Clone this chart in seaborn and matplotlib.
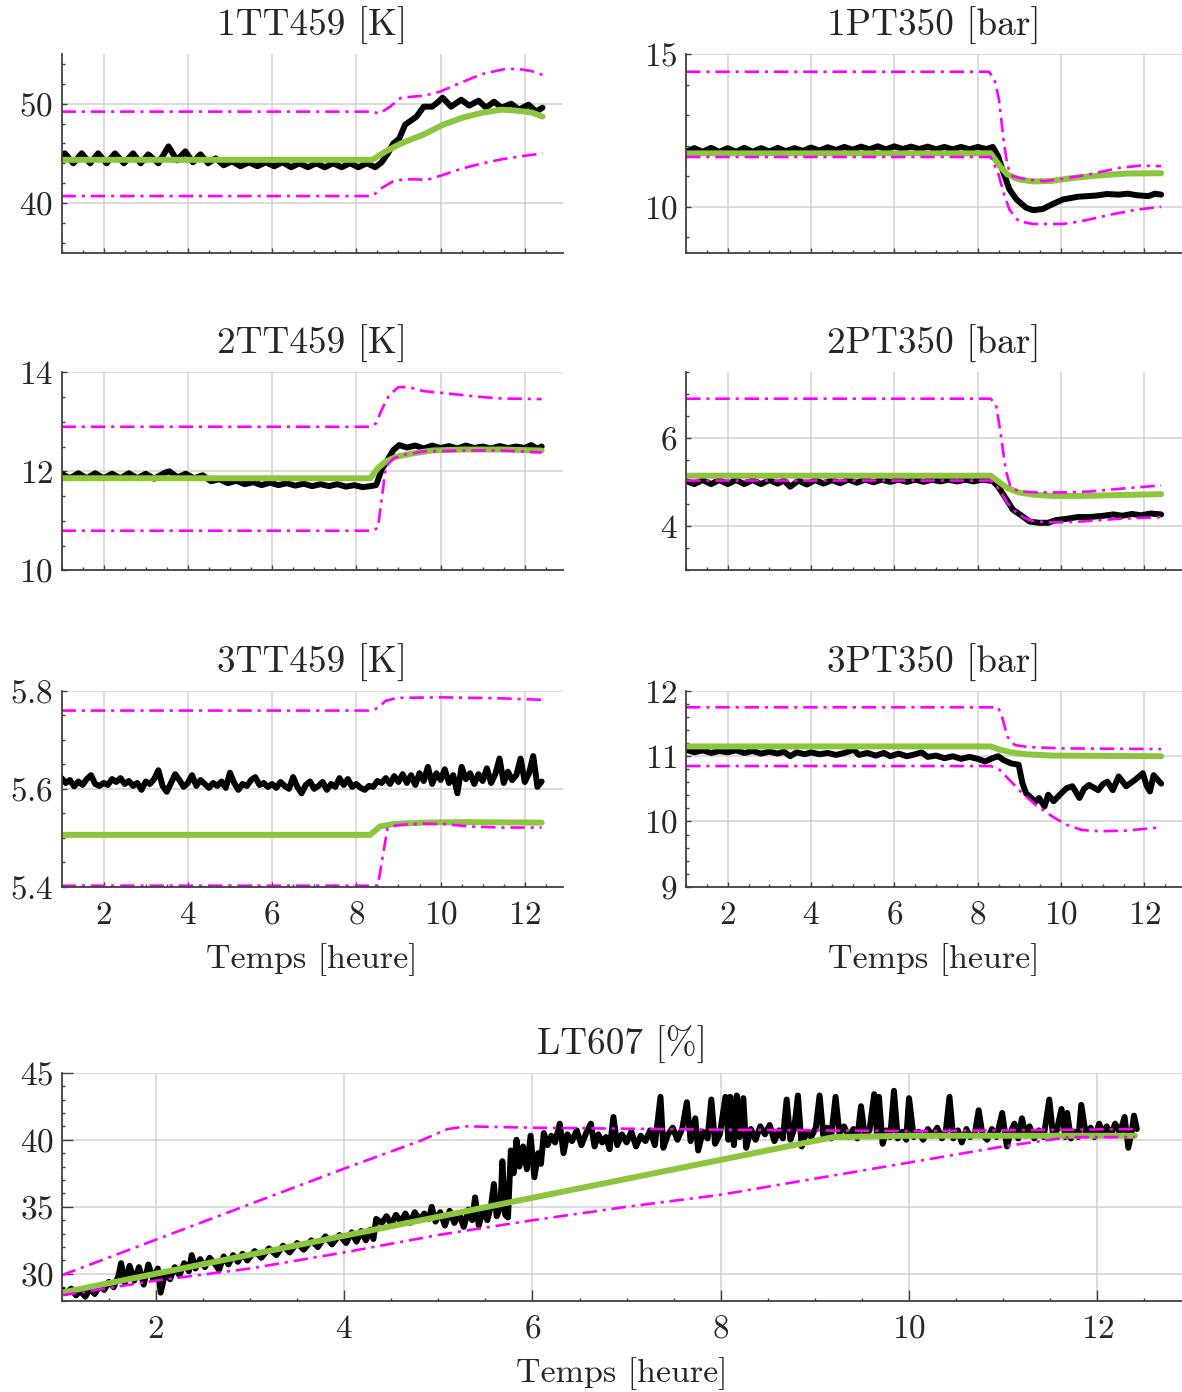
import seaborn as sns
import matplotlib.pyplot as plt
from matplotlib.ticker import MultipleLocator, FixedLocator

# ---------------- data ----------------
# 1TT459 [K]
t_1tt_meas = [1.00, 1.08, 1.28, 1.48, 1.68, 1.87, 2.07, 2.27, 2.48, 2.70,
              2.88, 3.06, 3.30, 3.54, 3.74, 3.94, 4.12, 4.30, 4.48, 4.66,
              4.85, 5.05, 5.25, 5.45, 5.65, 5.85, 6.05, 6.25, 6.45, 6.65,
              6.85, 7.05, 7.25, 7.45, 7.65, 7.85, 8.05, 8.25, 8.45, 8.60,
              8.75, 8.88, 9.02, 9.16, 9.30, 9.43, 9.60, 9.80, 9.92, 10.05,
              10.25, 10.49, 10.68, 10.90, 11.08, 11.27, 11.45, 11.68, 11.86, 12.09,
              12.27, 12.42]
v_1tt_meas = [44.6, 45.0, 44.0, 45.0, 44.0, 45.0, 44.0, 45.0, 44.0, 45.0,
              44.0, 44.9, 44.0, 45.7, 44.3, 45.2, 44.1, 44.9, 44.0, 44.5,
              43.8, 44.2, 43.7, 44.1, 43.7, 44.1, 43.7, 44.1, 43.6, 44.0,
              43.6, 44.0, 43.6, 44.0, 43.6, 44.0, 43.6, 44.0, 43.6, 44.1,
              45.0, 46.0, 46.5, 47.9, 48.3, 48.7, 49.7, 49.7, 50.1, 50.6,
              49.7, 50.4, 49.8, 50.3, 49.6, 50.2, 49.6, 50.0, 49.4, 49.9,
              49.2, 49.6]
t_1tt_mod = [1.0, 8.38, 8.7, 9.06, 9.6, 10.07, 10.53, 11.0, 11.45, 11.8, 12.18, 12.42]
v_1tt_mod = [44.35, 44.35, 45.2, 46.0, 46.9, 47.9, 48.6, 49.1, 49.4, 49.3, 49.1, 48.7]
t_1tt_up = [1.0, 8.38, 8.55, 8.8, 9.06, 9.6, 9.98, 10.53, 11.0, 11.54, 11.82, 12.15, 12.42]
v_1tt_up = [49.2, 49.2, 49.0, 49.7, 50.6, 50.8, 51.2, 52.2, 53.0, 53.5, 53.5, 53.3, 52.9]
t_1tt_lo = [1.0, 8.38, 8.6, 8.88, 9.16, 9.7, 10.07, 10.53, 11.0, 11.45, 11.9, 12.42]
v_1tt_lo = [40.7, 40.7, 41.5, 42.2, 42.4, 42.35, 42.85, 43.5, 44.0, 44.4, 44.7, 45.0]

# 1PT350 [bar]
t_1pt_meas = [1.0, 1.2, 1.4, 1.6, 1.8, 2.0, 2.2, 2.4, 2.6, 2.8,
              3.0, 3.2, 3.4, 3.6, 3.8, 4.0, 4.2, 4.4, 4.6, 4.8,
              5.0, 5.2, 5.4, 5.6, 5.8, 6.0, 6.2, 6.4, 6.6, 6.8,
              7.0, 7.2, 7.4, 7.6, 7.8, 8.0, 8.2, 8.36, 8.49, 8.62,
              8.76, 8.93, 9.16, 9.33, 9.56, 9.78, 10.04, 10.4, 10.84, 11.1,
              11.38, 11.6, 11.82, 12.09, 12.25, 12.4]
v_1pt_meas = [11.80, 11.92, 11.80, 11.93, 11.80, 11.92, 11.80, 11.93, 11.80, 11.92,
              11.81, 11.93, 11.82, 11.92, 11.83, 11.94, 11.84, 11.95, 11.86, 11.96,
              11.87, 11.97, 11.88, 11.98, 11.88, 11.98, 11.89, 11.97, 11.89, 11.97,
              11.88, 11.96, 11.88, 11.96, 11.88, 11.96, 11.89, 11.96, 11.65, 11.10,
              10.57, 10.24, 9.97, 9.89, 9.93, 10.08, 10.24, 10.33, 10.37, 10.42,
              10.40, 10.43, 10.38, 10.35, 10.43, 10.40]
t_1pt_mod = [1.0, 8.31, 8.53, 8.71, 8.98, 9.33, 9.78, 10.31, 10.93, 11.56, 12.4]
v_1pt_mod = [11.75, 11.75, 11.33, 11.06, 10.9, 10.83, 10.85, 10.95, 11.03, 11.09, 11.1]
t_1pt_up = [1.0, 8.27, 8.4, 8.51, 8.62, 8.71, 8.84, 9.16, 9.6, 10.04, 10.67, 11.38, 11.9, 12.4]
v_1pt_up = [14.42, 14.42, 14.18, 13.5, 12.2, 11.33, 11.0, 10.9, 10.84, 10.92, 11.06, 11.27, 11.35, 11.33]
t_1pt_lo = [1.0, 8.31, 8.49, 8.62, 8.76, 8.98, 9.33, 10.04, 10.49, 11.2, 11.82, 12.4]
v_1pt_lo = [11.63, 11.63, 11.1, 10.46, 9.91, 9.53, 9.44, 9.44, 9.53, 9.75, 9.91, 10.0]

# 2TT459 [K]
t_2tt_meas = [1.0, 1.2, 1.4, 1.6, 1.8, 2.0, 2.2, 2.4, 2.6, 2.8,
              3.0, 3.2, 3.45, 3.56, 3.75, 3.95, 4.15, 4.35, 4.55, 4.75,
              4.95, 5.15, 5.35, 5.55, 5.75, 5.95, 6.15, 6.35, 6.55, 6.75,
              6.95, 7.15, 7.35, 7.55, 7.75, 7.95, 8.15, 8.33, 8.47, 8.60,
              8.74, 8.88, 9.02, 9.2, 9.4, 9.6, 9.8, 10.0, 10.2, 10.4,
              10.6, 10.8, 11.0, 11.2, 11.4, 11.6, 11.8, 12.0, 12.15, 12.3,
              12.4]
v_2tt_meas = [11.95, 11.86, 11.96, 11.86, 11.96, 11.86, 11.95, 11.86, 11.96, 11.86,
              11.95, 11.85, 11.97, 12.00, 11.88, 11.95, 11.86, 11.92, 11.80, 11.84,
              11.76, 11.81, 11.74, 11.78, 11.72, 11.77, 11.72, 11.76, 11.71, 11.75,
              11.70, 11.74, 11.70, 11.74, 11.69, 11.72, 11.68, 11.70, 11.72, 12.03,
              12.23, 12.43, 12.53, 12.48, 12.52, 12.46, 12.52, 12.47, 12.51, 12.46,
              12.52, 12.47, 12.50, 12.46, 12.51, 12.47, 12.50, 12.47, 12.53, 12.46,
              12.50]
t_2tt_mod = [1.0, 8.33, 8.51, 8.7, 8.97, 9.34, 9.8, 10.53, 11.45, 12.4]
v_2tt_mod = [11.86, 11.86, 12.06, 12.2, 12.3, 12.36, 12.42, 12.44, 12.44, 12.42]
t_2tt_up = [1.0, 8.33, 8.47, 8.6, 8.78, 9.0, 9.25, 9.6, 10.07, 10.99, 11.45, 12.4]
v_2tt_up = [12.9, 12.9, 12.97, 13.24, 13.54, 13.7, 13.7, 13.62, 13.58, 13.5, 13.47, 13.46]
t_2tt_lo = [1.0, 8.33, 8.51, 8.6, 8.7, 8.88, 9.16, 9.6, 10.53, 11.45, 12.4]
v_2tt_lo = [10.8, 10.8, 10.85, 11.42, 12.09, 12.26, 12.34, 12.4, 12.42, 12.42, 12.38]

# 2PT350 [bar]
t_2pt_meas = [1.0, 1.2, 1.4, 1.6, 1.8, 2.0, 2.2, 2.4, 2.6, 2.8,
              3.0, 3.2, 3.35, 3.5, 3.7, 3.9, 4.1, 4.3, 4.5, 4.7,
              4.9, 5.1, 5.3, 5.5, 5.7, 5.9, 6.1, 6.3, 6.5, 6.7,
              6.9, 7.1, 7.3, 7.5, 7.7, 7.9, 8.1, 8.36, 8.49, 8.67,
              8.84, 9.07, 9.24, 9.47, 9.69, 9.87, 10.13, 10.4, 10.67, 11.02,
              11.25, 11.47, 11.7, 11.91, 12.15, 12.4]
v_2pt_meas = [5.03, 4.96, 5.05, 4.96, 5.05, 4.96, 5.05, 4.96, 5.05, 4.96,
              5.05, 4.97, 5.04, 4.90, 5.04, 4.95, 5.05, 4.97, 5.05, 4.98,
              5.06, 4.99, 5.06, 5.00, 5.06, 5.01, 5.06, 5.01, 5.06, 5.01,
              5.06, 5.02, 5.06, 5.02, 5.06, 5.02, 5.06, 5.03, 4.90, 4.64,
              4.38, 4.23, 4.11, 4.08, 4.08, 4.14, 4.17, 4.21, 4.21, 4.24,
              4.27, 4.24, 4.28, 4.25, 4.29, 4.27]
t_2pt_mod = [1.0, 8.31, 8.49, 8.71, 8.98, 9.33, 9.78, 10.49, 11.38, 12.4]
v_2pt_mod = [5.15, 5.15, 5.02, 4.87, 4.77, 4.72, 4.69, 4.69, 4.71, 4.73]
t_2pt_up = [1.0, 8.31, 8.44, 8.55, 8.67, 8.78, 8.98, 9.42, 10.04, 10.67, 11.38, 12.4]
v_2pt_up = [6.9, 6.9, 6.75, 6.11, 5.28, 4.91, 4.79, 4.77, 4.77, 4.79, 4.85, 4.93]
t_2pt_lo = [1.0, 8.31, 8.49, 8.71, 8.98, 9.24, 9.6, 10.04, 10.49, 11.38, 12.4]
v_2pt_lo = [5.04, 5.04, 4.87, 4.53, 4.26, 4.14, 4.09, 4.09, 4.11, 4.17, 4.21]

# 3TT459 [K]
t_3tt_meas = [1.0, 1.1, 1.2, 1.3, 1.4, 1.5, 1.6, 1.7, 1.8, 1.9,
              2.0, 2.1, 2.2, 2.3, 2.4, 2.5, 2.6, 2.7, 2.8, 2.9,
              3.0, 3.1, 3.2, 3.3, 3.4, 3.5, 3.6, 3.7, 3.8, 3.9,
              4.0, 4.1, 4.2, 4.3, 4.4, 4.5, 4.6, 4.7, 4.8, 4.9,
              5.0, 5.1, 5.2, 5.3, 5.4, 5.5, 5.6, 5.7, 5.8, 5.9,
              6.0, 6.1, 6.2, 6.3, 6.4, 6.5, 6.6, 6.7, 6.8, 6.9,
              7.0, 7.1, 7.2, 7.3, 7.4, 7.5, 7.6, 7.7, 7.8, 7.9,
              8.0, 8.1, 8.2, 8.3, 8.4, 8.5, 8.6, 8.7, 8.8, 8.9,
              9.0, 9.1, 9.2, 9.3, 9.4, 9.5, 9.6, 9.7, 9.8, 9.9,
              10.0, 10.1, 10.2, 10.3, 10.4, 10.5, 10.6, 10.7, 10.8, 10.9,
              11.0, 11.1, 11.2, 11.3, 11.4, 11.5, 11.6, 11.7, 11.8, 11.9,
              12.0, 12.1, 12.2, 12.3, 12.4]
v_3tt_meas = [5.622, 5.612, 5.618, 5.605, 5.615, 5.608, 5.620, 5.628, 5.610, 5.606,
              5.612, 5.608, 5.620, 5.614, 5.622, 5.610, 5.616, 5.606, 5.612, 5.598,
              5.615, 5.610, 5.620, 5.638, 5.606, 5.594, 5.612, 5.630, 5.618, 5.604,
              5.612, 5.628, 5.606, 5.618, 5.610, 5.602, 5.612, 5.606, 5.615, 5.602,
              5.633, 5.612, 5.598, 5.610, 5.606, 5.618, 5.624, 5.608, 5.612, 5.604,
              5.610, 5.602, 5.614, 5.606, 5.600, 5.624, 5.604, 5.591, 5.608, 5.615,
              5.600, 5.606, 5.614, 5.598, 5.610, 5.604, 5.622, 5.608, 5.620, 5.604,
              5.610, 5.602, 5.598, 5.606, 5.604, 5.616, 5.612, 5.622, 5.610, 5.626,
              5.614, 5.630, 5.612, 5.628, 5.608, 5.632, 5.616, 5.645, 5.610, 5.632,
              5.618, 5.640, 5.612, 5.628, 5.591, 5.645, 5.620, 5.632, 5.610, 5.630,
              5.616, 5.642, 5.612, 5.630, 5.662, 5.612, 5.635, 5.618, 5.628, 5.662,
              5.614, 5.632, 5.667, 5.604, 5.615]
t_3tt_mod = [1.0, 8.33, 8.56, 8.88, 9.6, 10.53, 12.4]
v_3tt_mod = [5.506, 5.506, 5.523, 5.528, 5.531, 5.532, 5.531]
t_3tt_up = [1.0, 8.33, 8.51, 8.7, 8.97, 10.07, 11.45, 12.4]
v_3tt_up = [5.76, 5.76, 5.765, 5.78, 5.786, 5.787, 5.785, 5.782]
t_3tt_lo = [1.0, 8.51, 8.6, 8.74, 8.97, 9.6, 10.07, 10.71, 11.45, 12.4]
v_3tt_lo = [5.402, 5.402, 5.448, 5.519, 5.526, 5.529, 5.528, 5.523, 5.521, 5.521]

# 3PT350 [bar]
t_3pt_meas = [1.0, 1.2, 1.4, 1.6, 1.8, 2.0, 2.2, 2.4, 2.6, 2.8,
              3.0, 3.2, 3.35, 3.5, 3.65, 3.85, 4.0, 4.2, 4.4, 4.6,
              4.8, 5.02, 5.15, 5.35, 5.55, 5.75, 5.9, 6.1, 6.3, 6.5,
              6.65, 6.8, 7.0, 7.2, 7.4, 7.6, 7.8, 8.0, 8.18, 8.35,
              8.49, 8.62, 8.8, 8.98, 9.07, 9.16, 9.29, 9.38, 9.47, 9.6,
              9.69, 9.82, 10.0, 10.13, 10.27, 10.44, 10.55, 10.67, 10.89, 11.0,
              11.11, 11.24, 11.38, 11.56, 11.78, 11.96, 12.05, 12.13, 12.22, 12.4]
v_3pt_meas = [11.10, 11.06, 11.09, 11.05, 11.08, 11.06, 11.09, 11.05, 11.08, 11.04,
              11.07, 11.04, 11.07, 11.00, 11.06, 11.03, 11.06, 11.03, 11.05, 11.02,
              11.05, 11.10, 11.02, 11.05, 11.01, 11.05, 11.00, 11.04, 11.00, 11.03,
              11.06, 10.99, 11.01, 10.97, 11.00, 10.96, 10.99, 10.96, 10.92, 10.97,
              11.00, 10.94, 10.89, 10.87, 10.59, 10.43, 10.36, 10.30, 10.36, 10.23,
              10.41, 10.31, 10.43, 10.51, 10.54, 10.36, 10.50, 10.56, 10.48, 10.57,
              10.61, 10.48, 10.69, 10.54, 10.64, 10.74, 10.55, 10.46, 10.71, 10.58]
t_3pt_mod = [1.0, 8.31, 8.53, 8.8, 9.16, 9.78, 12.4]
v_3pt_mod = [11.15, 11.15, 11.1, 11.06, 11.03, 11.01, 11.0]
t_3pt_up = [1.0, 8.49, 8.58, 8.71, 8.89, 9.24, 10.04, 12.4]
v_3pt_up = [11.75, 11.75, 11.61, 11.3, 11.17, 11.14, 11.12, 11.11]
t_3pt_lo = [1.0, 8.31, 8.53, 8.8, 9.07, 9.38, 9.78, 10.13, 10.49, 10.93, 11.56, 12.4]
v_3pt_lo = [10.85, 10.85, 10.79, 10.61, 10.43, 10.26, 10.08, 9.95, 9.87, 9.85, 9.86, 9.91]

# LT607 [%]
t_lt_meas = [1.00, 1.05, 1.10, 1.15, 1.20, 1.25, 1.30, 1.35, 1.40, 1.45,
             1.50, 1.55, 1.60, 1.63, 1.67, 1.72, 1.77, 1.82, 1.87, 1.92,
             1.97, 2.02, 2.05, 2.10, 2.15, 2.20, 2.25, 2.30, 2.35, 2.38,
             2.42, 2.47, 2.52, 2.57, 2.62, 2.67, 2.72, 2.77, 2.82, 2.87,
             2.92, 2.97, 3.05, 3.12, 3.20, 3.28, 3.35, 3.42, 3.50, 3.57,
             3.65, 3.72, 3.80, 3.87, 3.95, 4.02, 4.08, 4.13, 4.18, 4.23,
             4.28, 4.31, 4.34, 4.40, 4.45, 4.50, 4.55, 4.60, 4.65, 4.70,
             4.75, 4.80, 4.85, 4.90, 4.93, 4.97, 5.02, 5.07, 5.12, 5.17,
             5.22, 5.27, 5.32, 5.36, 5.39, 5.43, 5.48, 5.52, 5.56, 5.59,
             5.62, 5.66, 5.68, 5.71, 5.74, 5.77, 5.80, 5.83, 5.86, 5.90,
             5.94, 5.98, 6.02, 6.06, 6.09, 6.12, 6.16, 6.20, 6.24, 6.29,
             6.33, 6.37, 6.42, 6.47, 6.52, 6.57, 6.62, 6.66, 6.70, 6.74,
             6.78, 6.82, 6.86, 6.90, 6.95, 7.00, 7.05, 7.10, 7.15, 7.20,
             7.25, 7.30, 7.36, 7.39, 7.44, 7.49, 7.54, 7.59, 7.64, 7.68,
             7.73, 7.76, 7.81, 7.86, 7.90, 7.94, 7.99, 8.05, 8.08, 8.10,
             8.14, 8.17, 8.20, 8.24, 8.27, 8.32, 8.37, 8.42, 8.47, 8.52,
             8.57, 8.62, 8.66, 8.70, 8.74, 8.78, 8.82, 8.86, 8.91, 8.96,
             9.01, 9.05, 9.09, 9.13, 9.17, 9.22, 9.26, 9.31, 9.36, 9.41,
             9.45, 9.49, 9.53, 9.58, 9.63, 9.66, 9.68, 9.72, 9.76, 9.80,
             9.84, 9.88, 9.93, 9.97, 10.00, 10.05, 10.10, 10.15, 10.20, 10.25,
             10.30, 10.35, 10.39, 10.43, 10.47, 10.52, 10.56, 10.61, 10.65, 10.70,
             10.74, 10.78, 10.83, 10.88, 10.93, 10.99, 11.04, 11.08, 11.12, 11.16,
             11.20, 11.24, 11.28, 11.33, 11.38, 11.43, 11.49, 11.53, 11.57, 11.62,
             11.66, 11.68, 11.72, 11.76, 11.80, 11.83, 11.88, 11.93, 11.97, 12.02,
             12.06, 12.10, 12.14, 12.19, 12.24, 12.29, 12.33, 12.37, 12.39, 12.42]
v_lt_meas = [28.8, 28.6, 28.9, 28.4, 28.7, 28.3, 28.9, 28.5, 29.1, 28.8,
             29.4, 29.0, 29.8, 30.8, 29.3, 30.6, 29.5, 30.5, 29.2, 30.7,
             29.6, 30.4, 28.6, 30.1, 29.6, 30.5, 29.9, 30.8, 30.2, 31.4,
             30.4, 31.1, 30.5, 31.2, 30.8, 30.3, 31.3, 30.7, 31.4, 30.9,
             31.5, 31.0, 31.7, 31.2, 31.9, 31.4, 32.1, 31.6, 32.3, 31.8,
             32.5, 32.0, 32.8, 32.2, 32.9, 32.3, 33.1, 32.4, 33.2, 32.5,
             33.3, 32.6, 34.1, 33.8, 34.3, 33.7, 34.4, 33.9, 34.5, 33.8,
             34.6, 34.0, 34.5, 34.1, 35.0, 33.9, 34.6, 33.6, 34.7, 33.8,
             34.5, 33.5, 34.8, 34.0, 35.7, 33.6, 34.9, 34.0, 35.1, 36.7,
             34.3, 35.0, 38.4, 34.4, 34.2, 39.2, 37.5, 40.0, 38.0, 39.5,
             37.8, 40.3, 37.2, 39.0, 38.2, 40.5, 39.6, 40.3, 39.8, 41.2,
             39.0, 40.4, 39.9, 40.7, 39.6, 40.5, 41.2, 39.5, 40.4, 39.8,
             40.2, 39.3, 41.7, 39.6, 40.4, 39.8, 40.6, 39.5, 40.3, 39.9,
             40.7, 39.6, 43.2, 39.4, 40.4, 40.9, 40.0, 40.8, 42.8, 39.9,
             41.6, 39.2, 40.6, 40.1, 43.0, 39.7, 40.4, 43.2, 40.0, 43.2,
             39.6, 43.3, 40.2, 43.1, 39.4, 40.8, 40.0, 41.0, 40.4, 41.1,
             39.9, 40.7, 40.1, 43.0, 40.0, 40.8, 43.3, 39.5, 40.6, 40.2,
             40.9, 43.3, 40.3, 40.9, 40.1, 43.2, 40.5, 41.0, 40.2, 40.8,
             40.1, 42.5, 40.3, 40.7, 43.4, 40.4, 43.2, 39.7, 40.7, 40.2,
             43.65, 40.1, 40.6, 40.0, 43.1, 40.2, 40.6, 40.0, 40.8, 40.3,
             40.9, 40.1, 40.6, 43.2, 40.1, 40.7, 39.8, 40.8, 40.2, 40.5,
             42.2, 40.4, 40.0, 40.8, 40.2, 42.0, 39.5, 40.6, 41.2, 40.1,
             41.6, 40.3, 41.0, 40.1, 40.7, 40.2, 43.0, 40.3, 40.7, 42.3,
             40.2, 42.0, 40.1, 40.6, 40.2, 42.6, 40.3, 40.9, 40.2, 41.2,
             40.4, 41.0, 40.3, 41.2, 40.5, 41.7, 39.4, 40.8, 41.8, 40.8]
t_lt_mod = [1.0, 9.2, 10.0, 12.4]
v_lt_mod = [28.6, 40.2, 40.3, 40.3]
t_lt_up = [1.0, 4.0, 4.8, 5.1, 5.3, 6.0, 8.0, 10.0, 11.0, 12.4]
v_lt_up = [29.9, 37.85, 39.9, 40.8, 41.0, 40.9, 40.75, 40.65, 40.7, 40.8]
t_lt_lo = [1.0, 2.0, 3.0, 4.0, 5.0, 6.0, 7.0, 8.0, 9.0, 10.0, 11.0, 11.7, 12.4]
v_lt_lo = [28.4, 29.5, 30.4, 31.6, 32.9, 34.0, 35.0, 35.9, 37.1, 38.3, 39.5, 40.2, 40.2]

# ---------------- style ----------------
sns.set_style('whitegrid')
plt.rcParams['font.family'] = ['cmr10', 'DejaVu Serif']
plt.rcParams['axes.unicode_minus'] = False
plt.rcParams['axes.formatter.use_mathtext'] = True

GREEN = '#8cc63e'
MAGENTA = '#ff00ff'
DASHDOT = (0, (5.5, 2.2, 1.2, 2.2))

fig = plt.figure(figsize=(11.82, 13.92), dpi=100)
W, H = 1182.0, 1392.0


def panel(rect, title, meas, mod, up, lo, ylim, yticks, yminor,
          xlabel=False, tick_labels=False, major_len=3.5):
    l, t, r, b = rect
    ax = fig.add_axes([l / W, 1 - b / H, (r - l) / W, (b - t) / H])
    sns.lineplot(x=meas[0], y=meas[1], ax=ax, color='k', lw=4.3,
                 estimator=None, sort=False)
    sns.lineplot(x=mod[0], y=mod[1], ax=ax, color=GREEN, lw=4.3,
                 estimator=None, sort=False)
    for tt, vv in (up, lo):
        sns.lineplot(x=tt, y=vv, ax=ax, color=MAGENTA, lw=1.9,
                     linestyle=DASHDOT, estimator=None, sort=False)
    ax.set_xlim(1, 12.9)
    ax.set_ylim(*ylim)
    ax.xaxis.set_major_locator(FixedLocator([2, 4, 6, 8, 10, 12]))
    ax.xaxis.set_minor_locator(MultipleLocator(0.5))
    ax.yaxis.set_major_locator(FixedLocator(yticks))
    ax.yaxis.set_minor_locator(MultipleLocator(yminor))
    ax.grid(True, which='major', color='#d2d2d2', lw=1.1)
    ax.grid(False, which='minor')
    ax.set_axisbelow(True)
    for s in ('top', 'right'):
        ax.spines[s].set_visible(False)
    for s in ('left', 'bottom'):
        ax.spines[s].set_color('#404040')
        ax.spines[s].set_linewidth(1.3)
    ax.tick_params(which='both', direction='in', color='#404040',
                   width=1.0, labelsize=24, bottom=True, left=True)
    ax.tick_params(which='major', length=major_len)
    ax.tick_params(which='minor', length=2.2)
    ax.tick_params(axis='y', pad=6)
    ax.tick_params(axis='x', pad=10, labelbottom=tick_labels)
    ax.set_title(title, fontsize=26.8, pad=13)
    ax.set_xlabel('Temps [heure]' if xlabel else '', fontsize=24.5, labelpad=10)
    ax.set_ylabel('')
    return ax


L1, R1 = 61.5, 562.7
L2, R2 = 686.0, 1182.0

panel((L1, 54, R1, 252.7), '1TT459 [K]',
      (t_1tt_meas, v_1tt_meas), (t_1tt_mod, v_1tt_mod),
      (t_1tt_up, v_1tt_up), (t_1tt_lo, v_1tt_lo),
      (35, 55), [40, 50], 2)
panel((L2, 54, R2, 252.7), '1PT350 [bar]',
      (t_1pt_meas, v_1pt_meas), (t_1pt_mod, v_1pt_mod),
      (t_1pt_up, v_1pt_up), (t_1pt_lo, v_1pt_lo),
      (8.5, 15), [10, 15], 1)
panel((L1, 372.3, R1, 570.3), '2TT459 [K]',
      (t_2tt_meas, v_2tt_meas), (t_2tt_mod, v_2tt_mod),
      (t_2tt_up, v_2tt_up), (t_2tt_lo, v_2tt_lo),
      (10, 14), [10, 12, 14], 0.5)
panel((L2, 372.3, R2, 570.3), '2PT350 [bar]',
      (t_2pt_meas, v_2pt_meas), (t_2pt_mod, v_2pt_mod),
      (t_2pt_up, v_2pt_up), (t_2pt_lo, v_2pt_lo),
      (3, 7.5), [4, 6], 0.5)
panel((L1, 691, R1, 886.7), '3TT459 [K]',
      (t_3tt_meas, v_3tt_meas), (t_3tt_mod, v_3tt_mod),
      (t_3tt_up, v_3tt_up), (t_3tt_lo, v_3tt_lo),
      (5.4, 5.8), [5.4, 5.6, 5.8], 0.05, xlabel=True, tick_labels=True)
panel((L2, 691, R2, 886.7), '3PT350 [bar]',
      (t_3pt_meas, v_3pt_meas), (t_3pt_mod, v_3pt_mod),
      (t_3pt_up, v_3pt_up), (t_3pt_lo, v_3pt_lo),
      (9, 12), [9, 10, 11, 12], 0.2, xlabel=True, tick_labels=True)
panel((61.8, 1072.7, 1182, 1300.7), 'LT607 [%]',
      (t_lt_meas, v_lt_meas), (t_lt_mod, v_lt_mod),
      (t_lt_up, v_lt_up), (t_lt_lo, v_lt_lo),
      (28, 45), [30, 35, 40, 45], 1, xlabel=True, tick_labels=True,
      major_len=8)

fig.savefig('out.png', dpi=100)
